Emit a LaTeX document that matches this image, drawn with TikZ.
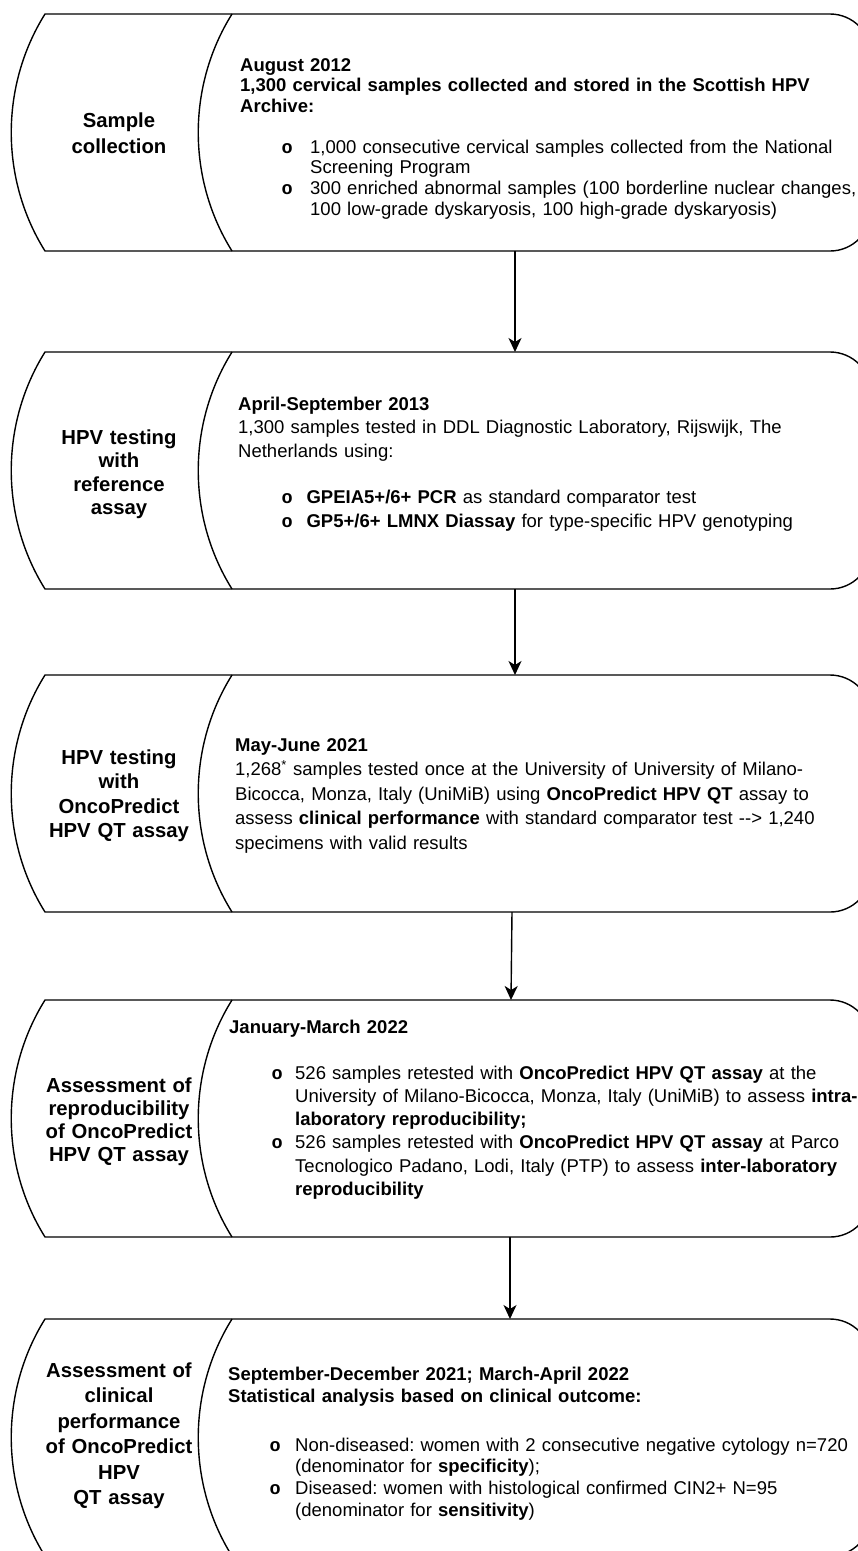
\documentclass[tikz,border=0pt]{standalone}
\usepackage{fontspec}
\setmainfont{Liberation Sans}
\newfontfamily\bulfont{Liberation Mono}
\usetikzlibrary{arrows.meta}
\frenchspacing
\newcommand{\bul}{{\bulfont\bfseries o}}
\newcommand{\bi}[1]{\makebox[#1][l]{\bul}}
\newcommand{\ci}[1]{\hspace*{#1}}
\begin{document}
\begin{tikzpicture}[x=1pt,y=-1pt,
  outline/.style={line width=1.4pt, line join=round},
  lab/.style={text width=200pt, align=center, inner sep=0pt, anchor=base,
    font=\bfseries\fontsize{20.3}{#1}\selectfont},
  txt/.style={text width=700pt, align=left, inner sep=0pt, anchor=base west,
    font=\fontsize{18.5}{#1}\selectfont},
  arr/.style={line width=1.4pt, -{Stealth[length=14pt,width=13pt,inset=4pt]}}
]
\fill[white] (0,0) rectangle (858,1551);
\useasboundingbox (0,0) rectangle (858,1551);

% stage outlines
\foreach \T in {14,352,675,1000,1319}{
  \draw[outline] (45,\T) .. controls (0,{\T+72}) and (0,{\T+165}) .. (45,{\T+237})
    -- (500,{\T+237}) {[rounded corners=41pt] -- (871,{\T+237}) -- (871,\T) -- (500,\T)} -- cycle;
  \draw[outline] (232,\T) .. controls (187,{\T+72}) and (187,{\T+165}) .. (232,{\T+237});
}

% Stage 1
\node[lab=26] (l1) at (119,127) {Sample\\collection};
\node[txt=20.7] (h1) at (240,71) {\bfseries August 2012\\1,300 cervical samples collected and stored in the Scottish HPV\\Archive:};
\node[txt=20.7] (b1) at (281.4,153) {\bi{28.6pt}1,000 consecutive cervical samples collected from the National\\
\ci{28.6pt}Screening Program\\
\bi{28.6pt}300 enriched abnormal samples (100 borderline nuclear changes,\\
\ci{28.6pt}100 low-grade dyskaryosis, 100 high-grade dyskaryosis)};

% Stage 2
\node[lab=23.5] (l2) at (119,444) {HPV testing\\with\\reference\\assay};
\node[txt=23.5] (h2) at (238,410) {\textbf{April-September 2013}\\1,300 samples tested in DDL Diagnostic Laboratory, Rijswijk, The\\Netherlands using:};
\node[txt=24] (b2) at (281.4,503) {\bi{25pt}\textbf{GPEIA5+/6+ PCR} as standard comparator test\\
\bi{25pt}\textbf{GP5+/6+ LMNX Diassay} for type-specific HPV genotyping};

% Stage 3
\node[lab=24.5] (l3) at (119,764) {HPV testing\\with\\OncoPredict\\HPV QT assay};
\node[txt=24.5] (h3) at (235,751) {\textbf{May-June 2021}\\1,268\textsuperscript{*} samples tested once at the University of University of Milano-\\Bicocca, Monza, Italy (UniMiB) using \textbf{OncoPredict HPV QT} assay to\\assess \textbf{clinical performance} with standard comparator test -{}-> 1,240\\specimens with valid results};

% Stage 4
\node[lab=23.3] (l4) at (119,1092) {Assessment of\\reproducibility\\of OncoPredict\\HPV QT assay};
\node[txt=23.3] (h4) at (229,1033) {\textbf{January-March 2022}};
\node[txt=23.3] (b4) at (271.4,1079) {\bi{23.6pt}526 samples retested with \textbf{OncoPredict HPV QT assay} at the\\
\ci{23.6pt}University of Milano-Bicocca, Monza, Italy (UniMiB) to assess \textbf{intra-}\\
\ci{23.6pt}\textbf{laboratory reproducibility;}\\
\bi{23.6pt}526 samples retested with \textbf{OncoPredict HPV QT assay} at Parco\\
\ci{23.6pt}Tecnologico Padano, Lodi, Italy (PTP) to assess \textbf{inter-laboratory}\\
\ci{23.6pt}\textbf{reproducibility}};

% Stage 5
\node[lab=25.5] (l5) at (119,1377) {Assessment of\\clinical\\performance\\of OncoPredict\\HPV\\QT assay};
\node[txt=22] (h5) at (228,1380) {\bfseries September-December 2021; March-April 2022\\Statistical analysis based on clinical outcome:};
\node[txt=21.8] (b5) at (269.5,1451) {\bi{25.5pt}Non-diseased: women with 2 consecutive negative cytology n=720\\
\ci{25.5pt}(denominator for \textbf{specificity});\\
\bi{25.5pt}Diseased: women with histological confirmed CIN2+ N=95\\
\ci{25.5pt}(denominator for \textbf{sensitivity})};

% connectors
\coordinate (o1) at (515,251);  \coordinate (i2) at (515,352);
\coordinate (o2) at (515,589);  \coordinate (i3) at (515,675);
\coordinate (o3) at (512,912);  \coordinate (i4) at (511,1000);
\coordinate (o4) at (510,1237); \coordinate (i5) at (510,1319);
\draw[arr] (o1) -- (i2);
\draw[arr] (o2) -- (i3);
\draw[arr] (o3) -- (i4);
\draw[arr] (o4) -- (i5);
\end{tikzpicture}
\end{document}
